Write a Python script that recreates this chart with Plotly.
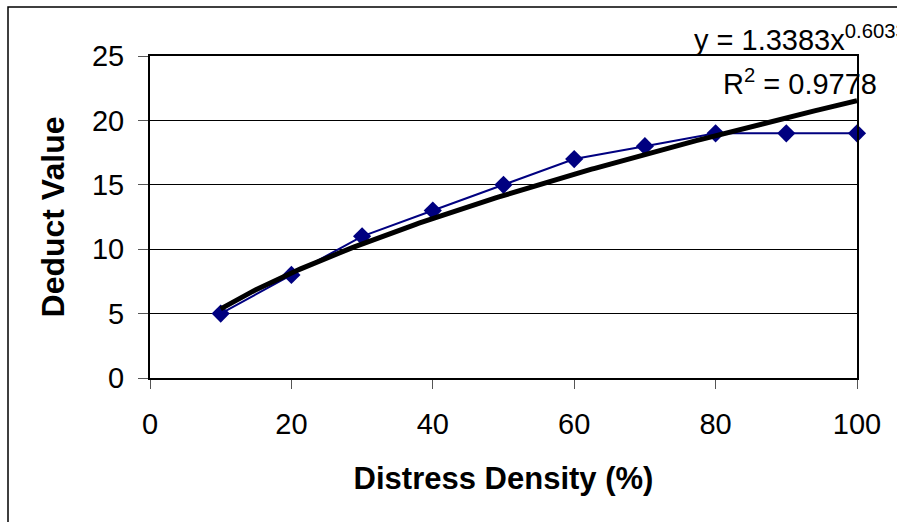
import numpy as np
import plotly.graph_objects as go

# Data
density = [10, 20, 30, 40, 50, 60, 70, 80, 90, 100]
deduct = [5, 8, 11, 13, 15, 17, 18, 19, 19, 19]
x_ticks = [0, 20, 40, 60, 80, 100]
y_ticks = [0, 5, 10, 15, 20, 25]
eq_text = "y = 1.3383x<sup>0.6033</sup>"
r2_text = "R<sup>2</sup> = 0.9778"

# Power trendline fitted from data (log-log regression, like Excel)
b, log_a = np.polyfit(np.log(density), np.log(deduct), 1)
a = np.exp(log_a)
xt = np.linspace(min(density), max(density), 200)
yt = a * xt ** b

FONT = "Liberation Sans, Arial, sans-serif"

fig = go.Figure()
fig.add_trace(go.Scatter(
    x=density, y=deduct, mode="lines+markers",
    line=dict(color="#000080", width=2),
    marker=dict(symbol="diamond", size=14, color="#000080"),
    showlegend=False, cliponaxis=False))
fig.add_trace(go.Scatter(
    x=xt, y=yt, mode="lines",
    line=dict(color="black", width=5),
    showlegend=False))

fig.update_layout(
    width=897, height=522,
    margin=dict(l=150, r=40, t=56, b=144),
    paper_bgcolor="white", plot_bgcolor="white",
    font=dict(family=FONT, size=29, color="black"),
)
fig.update_xaxes(
    range=[0, 100], tickvals=x_ticks, ticks="outside", ticklen=9,
    tickcolor="#555", tickwidth=1, showgrid=False, zeroline=False,
    showline=True, linecolor="black", linewidth=2, mirror=True,
    ticklabelstandoff=10,
    title=dict(text="<b>Distress Density (%)</b>", font=dict(size=31), standoff=29))
fig.update_yaxes(
    range=[0, 25], tickvals=y_ticks, ticks="outside", ticklen=10,
    tickcolor="#555", tickwidth=1, showgrid=True, gridcolor="black", gridwidth=1,
    zeroline=False, showline=True, linecolor="black", linewidth=2, mirror=True,
    ticklabelstandoff=8,
    title=dict(text="<b>Deduct Value</b>", font=dict(size=32), standoff=18))

# outer chart border
fig.add_shape(type="rect", xref="paper", yref="paper",
              x0=-142 / 707, x1=1.2, y0=-0.5, y1=1 + 49 / 322,
              line=dict(color="black", width=1.5), fillcolor="rgba(0,0,0,0)")

fig.add_annotation(x=0.766, y=1.056, xref="paper", yref="paper", text=eq_text,
                   showarrow=False, xanchor="left", yanchor="middle",
                   font=dict(size=29))
fig.add_annotation(x=0.808, y=0.918, xref="paper", yref="paper", text=r2_text,
                   showarrow=False, xanchor="left", yanchor="middle",
                   font=dict(size=29))

fig.write_html("out.html")
